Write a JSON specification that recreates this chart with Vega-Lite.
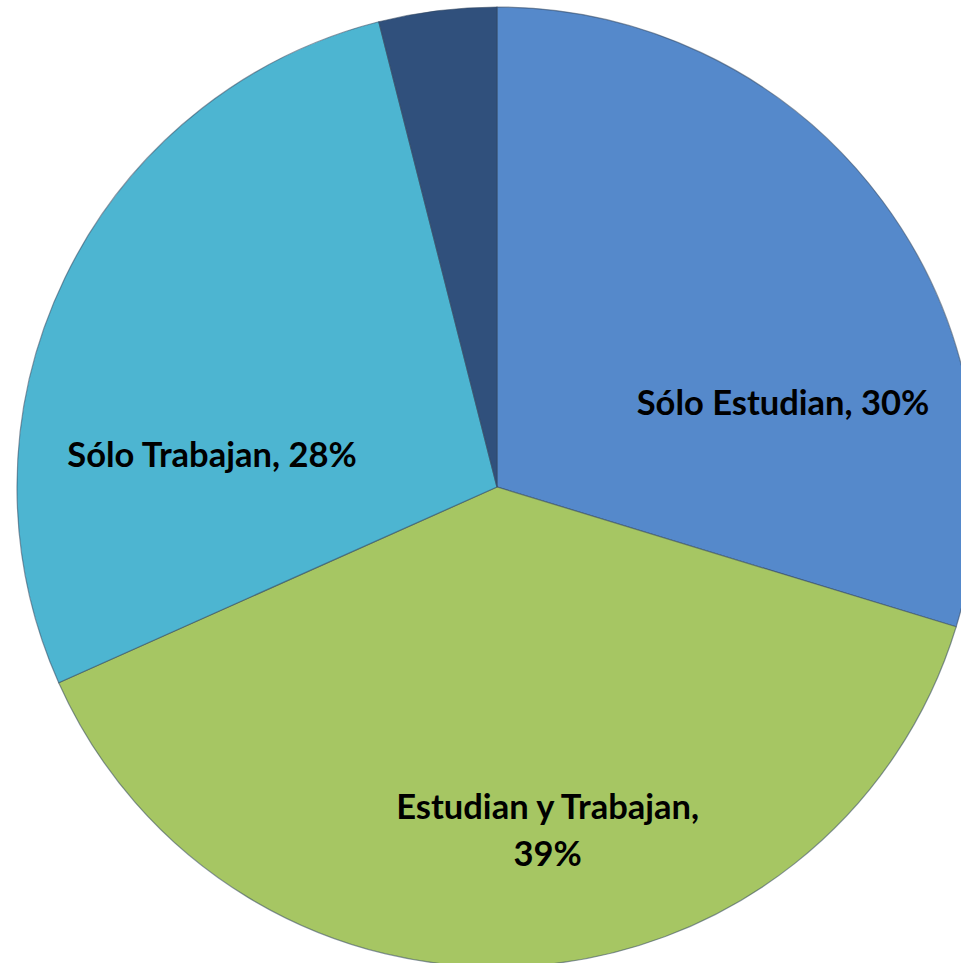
{
  "$schema": "https://vega.github.io/schema/vega-lite/v6.json",
  "width": 928,
  "height": 952,
  "autosize": "none",
  "padding": {"left": 33, "top": 11, "right": 0, "bottom": 0},
  "background": "#ffffff",
  "view": {"stroke": null},
  "data": {
    "values": [
      {"categoria": "Sólo Estudian", "porcentaje": 30, "orden": 1, "etiqueta": "Sólo Estudian, 30%"},
      {"categoria": "Estudian y Trabajan", "porcentaje": 39, "orden": 2, "etiqueta": "Estudian y Trabajan,\n39%"},
      {"categoria": "Sólo Trabajan", "porcentaje": 28, "orden": 3, "etiqueta": "Sólo Trabajan, 28%"},
      {"categoria": "Otros", "porcentaje": 4, "orden": 4, "etiqueta": ""}
    ]
  },
  "encoding": {
    "theta": {"field": "porcentaje", "type": "quantitative", "stack": true},
    "order": {"field": "orden", "type": "quantitative"}
  },
  "layer": [
    {
      "mark": {"type": "arc", "outerRadius": 480, "stroke": "#33475f", "strokeWidth": 1.2, "strokeOpacity": 0.55},
      "encoding": {
        "color": {
          "field": "categoria",
          "type": "nominal",
          "scale": {
            "domain": ["Sólo Estudian", "Estudian y Trabajan", "Sólo Trabajan", "Otros"],
            "range": ["#5589CB", "#A6C663", "#4DB5D1", "#30507C"]
          },
          "legend": null
        }
      }
    },
    {
      "mark": {"type": "text", "radius": 300, "dx": 45, "dy": 97, "font": "Lato", "fontWeight": "bold", "fontSize": 34.5, "color": "#000000", "align": "center", "baseline": "middle"},
      "encoding": {
        "text": {"condition": {"test": "datum.categoria === 'Sólo Estudian'", "field": "etiqueta"}, "value": ""}
      }
    },
    {
      "mark": {"type": "text", "radius": 300, "dx": 32, "dy": 23, "font": "Lato", "fontWeight": "bold", "fontSize": 34.5, "lineHeight": 47, "lineBreak": "\n", "color": "#000000", "align": "center", "baseline": "middle"},
      "encoding": {
        "text": {"condition": {"test": "datum.categoria === 'Estudian y Trabajan'", "field": "etiqueta"}, "value": ""}
      }
    },
    {
      "mark": {"type": "text", "radius": 300, "dx": -15, "dy": 101, "font": "Lato", "fontWeight": "bold", "fontSize": 34.5, "color": "#000000", "align": "center", "baseline": "middle"},
      "encoding": {
        "text": {"condition": {"test": "datum.categoria === 'Sólo Trabajan'", "field": "etiqueta"}, "value": ""}
      }
    }
  ]
}
